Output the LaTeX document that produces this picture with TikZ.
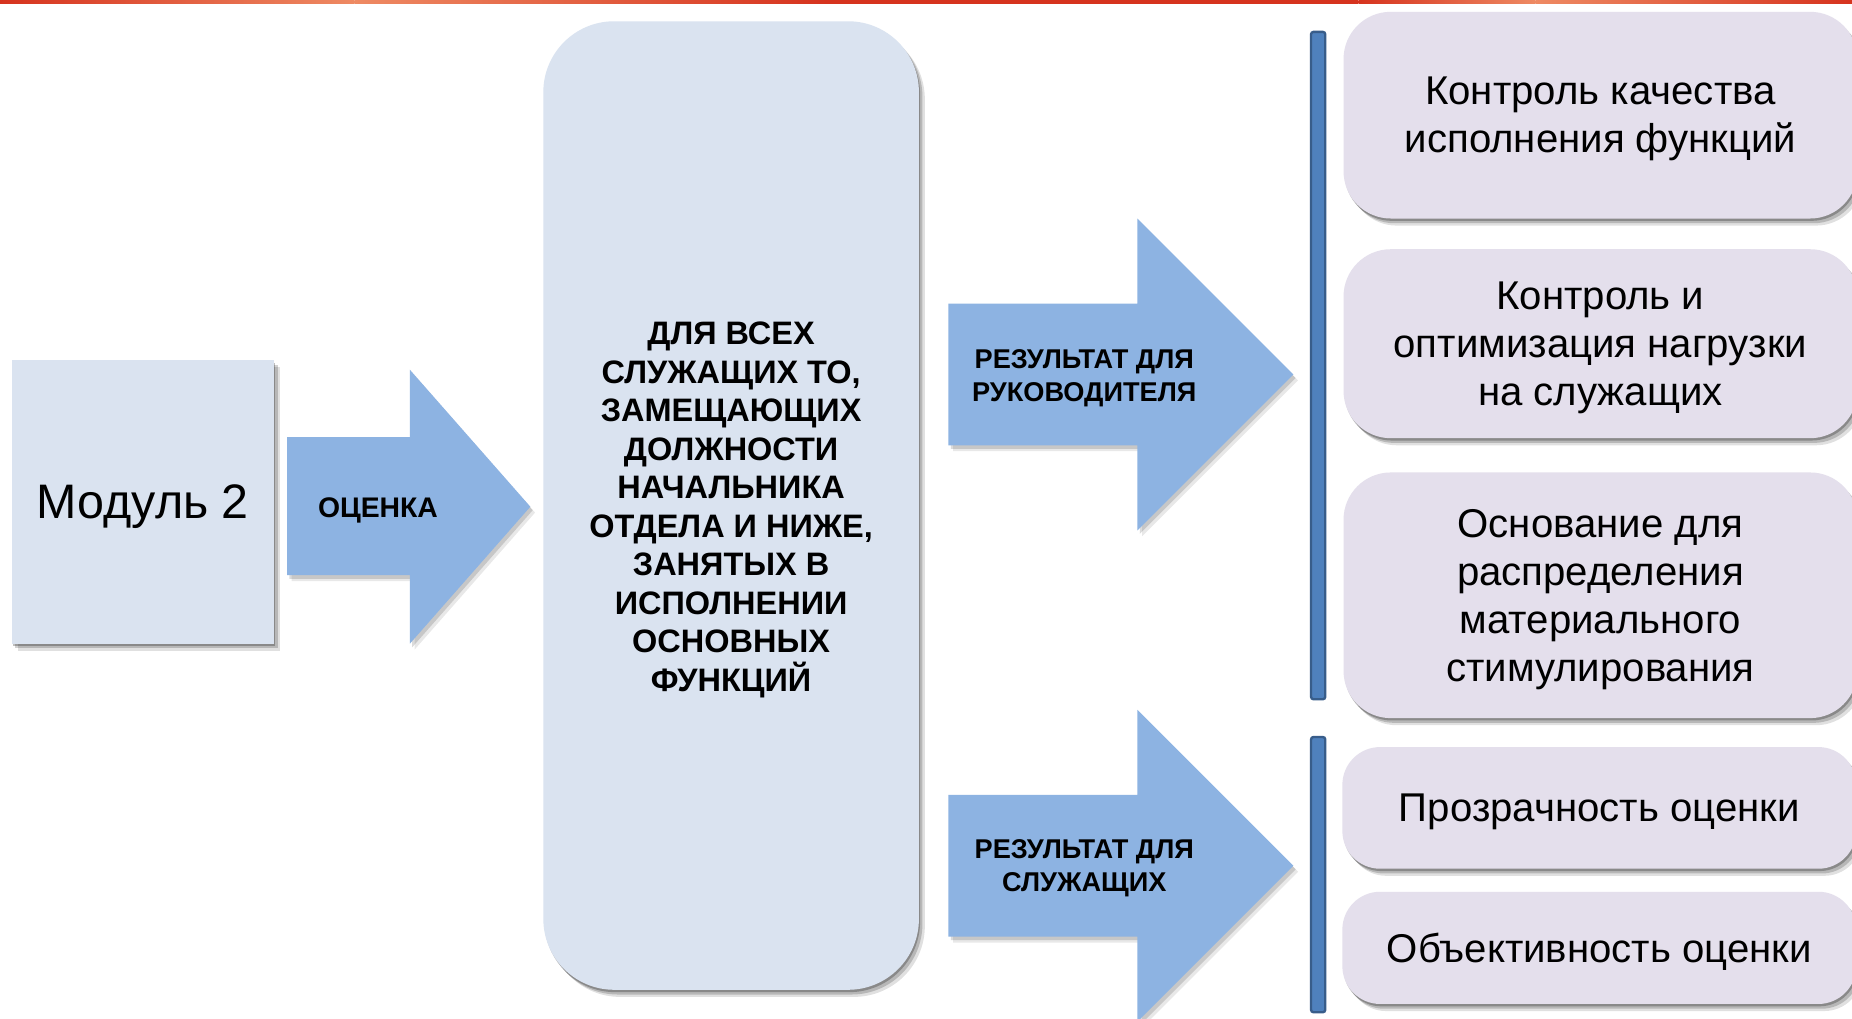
\documentclass[tikz,border=0pt]{standalone}
\usepackage{fontspec}
\setmainfont{Liberation Sans}
\usetikzlibrary{shadows}
\definecolor{boxblue}{HTML}{DAE3F0}
\definecolor{lav}{HTML}{E4DFEC}
\definecolor{arrowblue}{HTML}{8DB3E2}
\definecolor{barfill}{HTML}{4F81BD}
\definecolor{bardraw}{HTML}{385D8A}
\definecolor{topred}{HTML}{D6331E}
\definecolor{toporange}{HTML}{EE8A63}
\tikzset{
  softshadow/.style={
    drop shadow={shadow xshift=1pt,shadow yshift=-2pt,opacity=.25,fill=black},
    drop shadow={shadow xshift=3pt,shadow yshift=-4pt,opacity=.18,fill=black},
    drop shadow={shadow xshift=5pt,shadow yshift=-6pt,opacity=.12,fill=black}},
  lightshadow/.style={
    drop shadow={shadow xshift=2pt,shadow yshift=-3pt,opacity=.14,fill=black},
    drop shadow={shadow xshift=4pt,shadow yshift=-5pt,opacity=.09,fill=black}},
  modbox/.style={rectangle,fill=boxblue,softshadow,minimum width=222pt,minimum height=240pt,inner sep=0pt},
  centbox/.style={rectangle,rounded corners=60pt,fill=boxblue,softshadow,
    minimum width=318pt,minimum height=820pt,inner sep=0pt},
  rbox/.style={rectangle,rounded corners=40pt,fill=lav,softshadow,
    minimum width=435pt,inner sep=0pt},
  modtext/.style={inner sep=0pt,font=\fontsize{41}{46}\selectfont},
  centtext/.style={inner sep=0pt,align=center,font=\bfseries\fontsize{27.5}{32.6}\selectfont},
  rtext/.style={inner sep=0pt,align=center,font=\fontsize{34}{40.7}\selectfont},
  arrowshape/.style={fill=arrowblue,lightshadow},
  arrowtext/.style={align=center,font=\bfseries\fontsize{23}{28}\selectfont,inner sep=0pt},
  barshape/.style={fill=barfill,draw=bardraw,line width=2pt,rounded corners=2pt}
}
\begin{document}
\begin{tikzpicture}[x=1pt,y=-1pt]
\useasboundingbox (0,0) rectangle (1568,862);
\fill[white] (0,0) rectangle (1568,862);
% top red line
\shade[left color=topred,right color=toporange] (0,0) rectangle (300,3);
\shade[left color=toporange,right color=topred] (300,0) rectangle (700,3);
\fill[topred] (700,0) rectangle (1150,3);
\shade[left color=topred,right color=toporange] (1150,0) rectangle (1300,3);
\shade[left color=toporange,right color=topred] (1300,0) rectangle (1568,3);

% module box
\node[modbox] (mod) at (121,425) {};
\node[modtext] (modt) at ([yshift=-3.5pt]mod.center) {Модуль 2};

% arrow 1
\fill[arrowshape] (243,370) -- (347,370) -- (347,313) -- (449,429) -- (347,545) -- (347,487) -- (243,487) -- cycle;
\node[arrowtext,font=\bfseries\fontsize{24}{28}\selectfont] (a1) at (320,432) {ОЦЕНКА};

% central box
\node[centbox] (cent) at (619,428) {};
\node[centtext] (centt) at ([yshift=-3.5pt]cent.center) {ДЛЯ ВСЕХ\\СЛУЖАЩИХ ТО,\\ЗАМЕЩАЮЩИХ\\ДОЛЖНОСТИ\\НАЧАЛЬНИКА\\ОТДЕЛА И НИЖЕ,\\ЗАНЯТЫХ В\\ИСПОЛНЕНИИ\\ОСНОВНЫХ\\ФУНКЦИЙ};

% arrow 2
\fill[arrowshape] (803,257) -- (963,257) -- (963,185) -- (1095,317) -- (963,449) -- (963,377) -- (803,377) -- cycle;
\node[arrowtext] (a2) at (918,320) {РЕЗУЛЬТАТ ДЛЯ\\РУКОВОДИТЕЛЯ};

% arrow 3
\fill[arrowshape] (803,673) -- (963,673) -- (963,601) -- (1095,733) -- (963,865) -- (963,793) -- (803,793) -- cycle;
\node[arrowtext] (a3) at (918,735) {РЕЗУЛЬТАТ ДЛЯ\\СЛУЖАЩИХ};

% bars
\draw[barshape] (1110,27) rectangle (1122,592);
\draw[barshape] (1110,624) rectangle (1122,857);

% right boxes
\node[rbox,minimum height=175pt] (r1) at (1355,97.5) {};
\node[rtext] (r1t) at ([yshift=-3.5pt]r1.center) {Контроль качества\\исполнения функций};
\node[rbox,minimum height=160pt] (r2) at (1355,291) {};
\node[rtext] (r2t) at ([yshift=-3.5pt]r2.center) {Контроль и\\оптимизация нагрузки\\на служащих};
\node[rbox,minimum height=208pt] (r3) at (1355,504) {};
\node[rtext] (r3t) at ([yshift=-3.5pt]r3.center) {Основание для\\распределения\\материального\\стимулирования};
\node[rbox,rounded corners=32pt,minimum height=103pt] (r4) at (1354,684) {};
\node[rtext] (r4t) at ([yshift=-3.5pt]r4.center) {Прозрачность оценки};
\node[rbox,rounded corners=32pt,minimum height=95pt] (r5) at (1354,802.5) {};
\node[rtext] (r5t) at ([yshift=-3.5pt]r5.center) {Объективность оценки};
\end{tikzpicture}
\end{document}
